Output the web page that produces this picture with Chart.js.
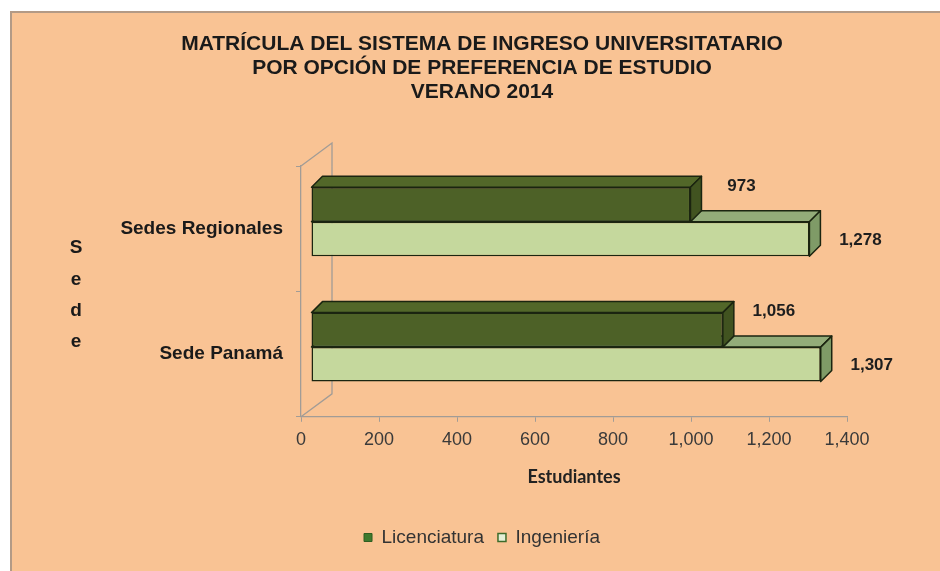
<!DOCTYPE html>
<html>
<head>
<meta charset="utf-8">
<script src="https://cdn.jsdelivr.net/npm/chart.js@4.4.1/dist/chart.umd.min.js"></script>
<style>
    html, body { margin: 0; padding: 0; background: #fff; }
    #wrap { width: 940px; height: 571px; }
</style>
</head>
<body>
<div id="wrap"><canvas id="chart" width="940" height="571"></canvas></div>
<script>
// data
const categories = ["Sedes Regionales", "Sede Panamá"];
const licenciatura = [973, 1056];
const ingenieria = [1278, 1307];
const seriesNames = ["Licenciatura", "Ingeniería"];
const titleLines = [
    "MATRÍCULA DEL SISTEMA DE INGRESO UNIVERSITATARIO",
    "POR OPCIÓN DE PREFERENCIA DE ESTUDIO",
    "VERANO 2014"
];
const xTitle = "Estudiantes";
const yTitle = "Sede";
const xMin = 0, xMax = 1400, xStep = 200;

// 3d look
const SHIFT_X = 10, SHIFT_Y = -7;   // bars sit in the middle of the floor depth
const DEPTH_X = 11, DEPTH_Y = -11;  // bar thickness
const WALL_X = 31, WALL_Y = -23;    // floor depth
const topColors = ["#526729", "#93ac79"];
const sideColors = ["#415320", "#7f9b67"];
const edgeColor = "#1b2510";
const lineGrey = "#a29c96";

Chart.defaults.font.family = "'Liberation Sans', Arial, sans-serif";

const frame3d = {
    id: "frame3d",
    beforeDraw(chart) {
        const ctx = chart.ctx;
        ctx.save();
        ctx.fillStyle = "#ffffff";
        ctx.fillRect(0, 0, chart.width, chart.height);
        ctx.fillStyle = "#f9c394";
        ctx.fillRect(10, 11, chart.width - 10, chart.height - 11);
        ctx.fillStyle = "#b39a86";
        ctx.fillRect(10, 11, 2, chart.height - 11);
        ctx.fillRect(10, 11, chart.width - 10, 2);
        ctx.restore();
    },
    beforeDatasetsDraw(chart) {
        const ctx = chart.ctx;
        const a = chart.chartArea;
        // back wall
        ctx.save();
        ctx.strokeStyle = lineGrey;
        ctx.lineWidth = 1.3;
        ctx.beginPath();
        ctx.moveTo(a.left, a.top);
        ctx.lineTo(a.left + WALL_X, a.top + WALL_Y);
        ctx.lineTo(a.left + WALL_X, a.bottom + WALL_Y);
        ctx.lineTo(a.left, a.bottom);
        ctx.stroke();
        ctx.restore();

        ctx.save();
        ctx.translate(SHIFT_X, SHIFT_Y);
        // lower bar first, upper bar on top of it
        for (let d = chart.data.datasets.length - 1; d >= 0; d--) {
            const meta = chart.getDatasetMeta(d);
            meta.data.forEach(bar => {
                const left = bar.base, right = bar.x;
                const top = bar.y - bar.height / 2, bottom = bar.y + bar.height / 2;
                ctx.strokeStyle = edgeColor;
                ctx.lineWidth = 1.5;
                ctx.lineJoin = "round";
                ctx.fillStyle = topColors[d];
                ctx.beginPath();
                ctx.moveTo(left, top);
                ctx.lineTo(left + DEPTH_X, top + DEPTH_Y);
                ctx.lineTo(right + DEPTH_X, top + DEPTH_Y);
                ctx.lineTo(right, top);
                ctx.closePath();
                ctx.fill();
                ctx.stroke();
                ctx.fillStyle = sideColors[d];
                ctx.beginPath();
                ctx.moveTo(right, top);
                ctx.lineTo(right + DEPTH_X, top + DEPTH_Y);
                ctx.lineTo(right + DEPTH_X, bottom + DEPTH_Y);
                ctx.lineTo(right, bottom);
                ctx.closePath();
                ctx.fill();
                ctx.stroke();
            });
        }
    },
    afterDatasetsDraw(chart) {
        const ctx = chart.ctx;
        ctx.restore();

        // value labels
        ctx.save();
        ctx.font = "bold 17px 'Liberation Sans', Arial, sans-serif";
        ctx.fillStyle = "#1e1e1e";
        ctx.textAlign = "center";
        ctx.textBaseline = "middle";
        chart.data.datasets.forEach((ds, d) => {
            chart.getDatasetMeta(d).data.forEach((bar, i) => {
                const x = bar.x + SHIFT_X + 51;
                const y = d === 0
                    ? bar.y + SHIFT_Y - bar.height / 2 - 1
                    : bar.y + SHIFT_Y + 1;
                ctx.fillText(ds.data[i].toLocaleString("en-US"), x, y);
            });
        });

        // stacked axis title
        ctx.font = "bold 19px 'Liberation Sans', Arial, sans-serif";
        ctx.fillStyle = "#1a1a1a";
        const letterY = [248, 280, 311, 342];
        yTitle.split("").forEach((ch, i) => ctx.fillText(ch, 76, letterY[i]));
        ctx.restore();
    }
};

const ctx = document.getElementById("chart").getContext("2d");
new Chart(ctx, {
    type: "bar",
    data: {
        labels: categories,
        datasets: [{
            label: seriesNames[0],
            data: licenciatura,
            backgroundColor: "#4d6127",
            borderColor: edgeColor,
            borderWidth: 1.5,
            borderSkipped: false
        }, {
            label: seriesNames[1],
            data: ingenieria,
            backgroundColor: "#c5d89d",
            borderColor: edgeColor,
            borderWidth: 1.5,
            borderSkipped: false
        }]
    },
    options: {
        indexAxis: "y",
        responsive: false,
        animation: false,
        categoryPercentage: 0.55,
        barPercentage: 1.0,
        layout: { padding: { left: 117, right: 93, top: 32, bottom: 14 } },
        plugins: {
            title: {
                display: true,
                text: titleLines,
                color: "#1a1a1a",
                font: { size: 21, weight: "bold", lineHeight: 1.143 },
                padding: { top: 0, bottom: 62 }
            },
            legend: {
                position: "bottom",
                labels: {
                    color: "#333333",
                    font: { size: 19 },
                    boxWidth: 8,
                    boxHeight: 8,
                    padding: 14,
                    generateLabels(chart) {
                        const items = Chart.defaults.plugins.legend.labels.generateLabels(chart);
                        items[0].fillStyle = "#3e7a2e";
                        items[0].strokeStyle = "#2f5e22";
                        items[0].lineWidth = 1;
                        items[1].fillStyle = "#e4efd6";
                        items[1].strokeStyle = "#3d6b2a";
                        items[1].lineWidth = 1.5;
                        return items;
                    }
                }
            },
            tooltip: { enabled: false }
        },
        scales: {
            x: {
                min: xMin,
                max: xMax,
                ticks: {
                    stepSize: xStep,
                    color: "#3a3a3a",
                    font: { size: 18 },
                    padding: 7,
                    maxRotation: 0
                },
                grid: { drawOnChartArea: false, tickLength: 5, color: lineGrey },
                border: { color: lineGrey, width: 1.3 },
                title: {
                    display: true,
                    text: xTitle,
                    color: "#222222",
                    font: { family: "Lato, 'Open Sans', sans-serif", size: 18, weight: "bold" },
                    padding: { top: 9, bottom: 26 }
                }
            },
            y: {
                ticks: {
                    color: "#1a1a1a",
                    font: { size: 19, weight: "bold" },
                    padding: 13
                },
                grid: { drawOnChartArea: false, tickLength: 5, color: lineGrey },
                border: { color: lineGrey, width: 1.3 },
                afterFit(axis) { axis.width = 301 - 117; }
            }
        }
    },
    plugins: [frame3d]
});
</script>
</body>
</html>
